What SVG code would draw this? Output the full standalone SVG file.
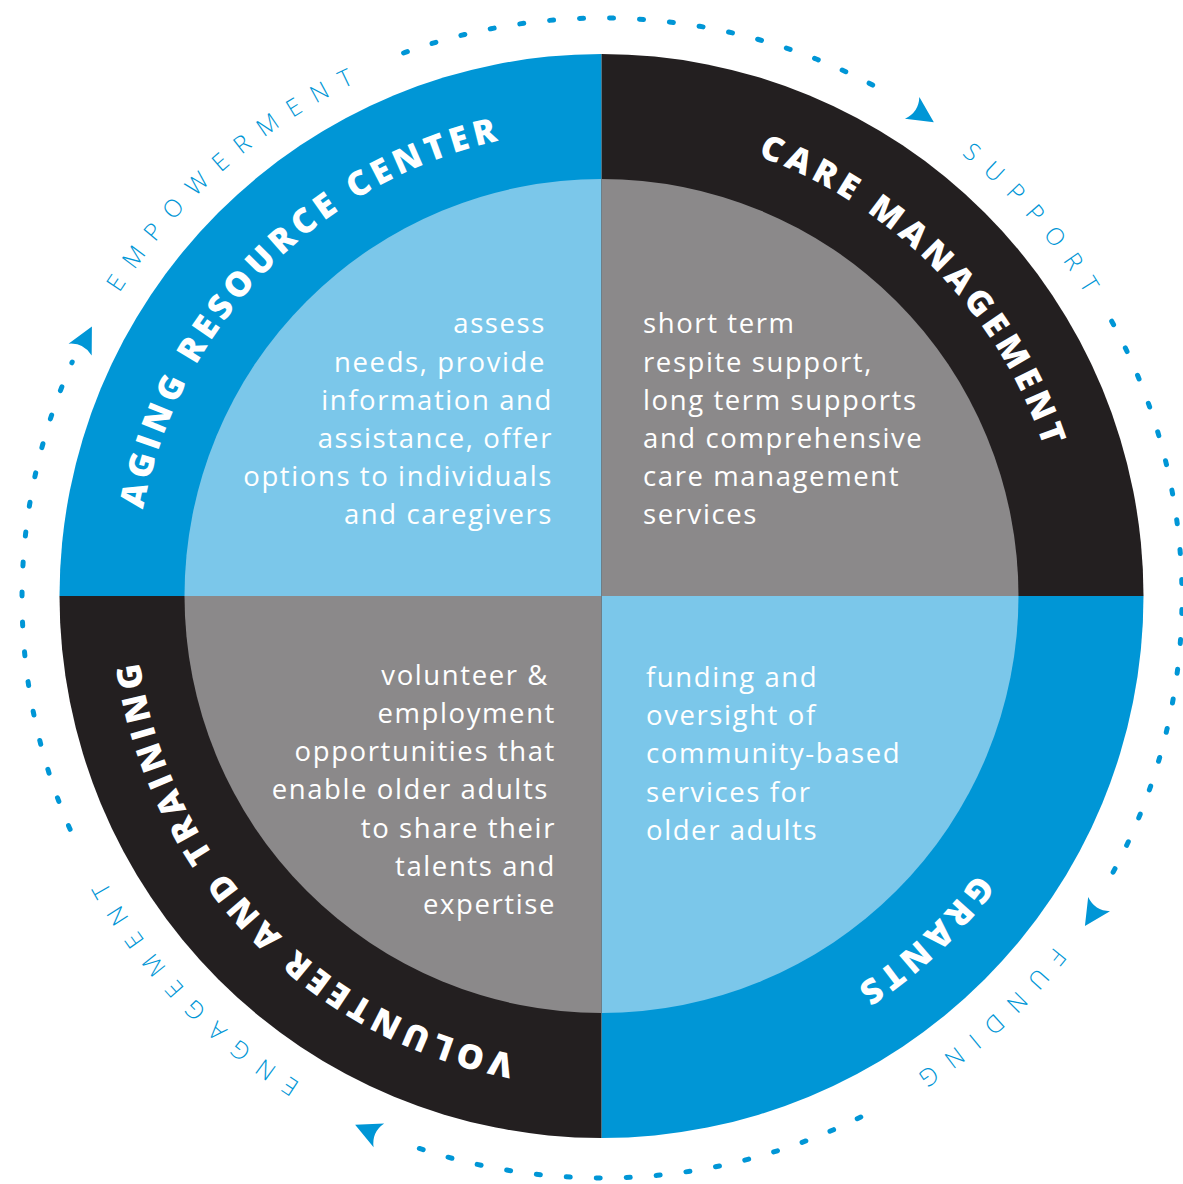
<svg xmlns="http://www.w3.org/2000/svg" xmlns:xlink="http://www.w3.org/1999/xlink" width="1183" height="1184" viewBox="0 0 1183 1184">
  <style>
    .blue { fill: #0096d6; }
    .black { fill: #231f20; }
    .light { fill: #7bc7ea; }
    .gray { fill: #8b898a; }
    .body { font-family: "Open Sans", "Noto Sans", sans-serif; font-size: 27.5px; font-weight: 400; fill: #ffffff; letter-spacing: 1.6px; }
    .ring { font-family: "Open Sans", "Noto Sans", sans-serif; font-size: 34px; font-weight: 800; fill: #ffffff; letter-spacing: 5px; }
    .outer { font-family: "Open Sans", "Noto Sans", sans-serif; font-size: 24px; font-weight: 300; fill: #0096d6; letter-spacing: 14px; }
    .dash { fill: none; stroke: #0096d6; stroke-width: 5; stroke-linecap: round; stroke-dasharray: 4 26; }
    .arrow { fill: #0096d6; }
  </style>
  <defs>
    <path id="ringPath" d="M 1068 596 A 466.5 466.5 0 1 1 135 596 A 466.5 466.5 0 1 1 1068 596"/>
    <path id="outerPath" d="M 1173 598 A 571 571 0 1 1 31 598 A 571 571 0 1 1 1173 598"/>
    <path id="arrowHead" d="M 13 0 L -13 -13 Q -5 0 -13 13 Z"/>
  </defs>

  <g id="node-aging-resource-center">
    <path class="blue" d="M 601.5 596 L 59.5 596 A 542 542 0 0 1 601.5 54 Z"/>
    <path class="light" d="M 601.5 596 L 184.5 596 A 417 417 0 0 1 601.5 179 Z"/>
    <text class="ring" text-anchor="middle"><textPath xlink:href="#ringPath" startOffset="1826">AGING RESOURCE CENTER</textPath></text>
    <g class="body" text-anchor="end">
      <text x="546" y="333">assess</text>
      <text x="546" y="372">needs, provide</text>
      <text x="553" y="410">information and</text>
      <text x="553" y="448">assistance, offer</text>
      <text x="553" y="486">options to individuals</text>
      <text x="553" y="524">and caregivers</text>
    </g>
  </g>

  <g id="node-care-management">
    <path class="black" d="M 601.5 596 L 601.5 54 A 542 542 0 0 1 1143.5 596 Z"/>
    <path class="gray" d="M 601.5 596 L 601.5 179 A 417 417 0 0 1 1018.5 596 Z"/>
    <text class="ring" text-anchor="middle"><textPath xlink:href="#ringPath" startOffset="2571">CARE MANAGEMENT</textPath></text>
    <g class="body">
      <text x="643" y="333">short term</text>
      <text x="643" y="372">respite support,</text>
      <text x="643" y="410">long term supports</text>
      <text x="643" y="448">and comprehensive</text>
      <text x="643" y="486">care management</text>
      <text x="643" y="524">services</text>
    </g>
  </g>

  <g id="node-grants">
    <path class="blue" d="M 601.5 596 L 1143.5 596 A 542 542 0 0 1 601.5 1138 Z"/>
    <path class="light" d="M 601.5 596 L 1018.5 596 A 417 417 0 0 1 601.5 1013 Z"/>
    <text class="ring" text-anchor="middle"><textPath xlink:href="#ringPath" startOffset="382">GRANTS</textPath></text>
    <g class="body">
      <text x="646" y="687">funding and</text>
      <text x="646" y="725">oversight of</text>
      <text x="646" y="763">community-based</text>
      <text x="646" y="802">services for</text>
      <text x="646" y="840">older adults</text>
    </g>
  </g>

  <g id="node-volunteer-and-training">
    <path class="black" d="M 601.5 596 L 601.5 1138 A 542 542 0 0 1 59.5 596 Z"/>
    <path class="gray" d="M 601.5 596 L 601.5 1013 A 417 417 0 0 1 184.5 596 Z"/>
    <text class="ring" text-anchor="middle"><textPath xlink:href="#ringPath" startOffset="1112">VOLUNTEER AND TRAINING</textPath></text>
    <g class="body" text-anchor="end">
      <text x="549" y="685">volunteer &amp;</text>
      <text x="556" y="723">employment</text>
      <text x="556" y="761">opportunities that</text>
      <text x="549" y="799">enable older adults</text>
      <text x="556" y="838">to share their</text>
      <text x="556" y="876">talents and</text>
      <text x="556" y="914">expertise</text>
    </g>
  </g>

  <g id="connectors">
    <path class="dash" d="M 403.6 53 A 580 580 0 0 1 892 95.7"/>
    <path class="dash" d="M 1111.7 321.2 A 580 580 0 0 1 1109.3 879.2"/>
    <path class="dash" d="M 860.8 1117 A 580 580 0 0 1 403.6 1143"/>
    <path class="dash" d="M 70.1 829.3 A 580 580 0 0 1 72.2 362.1"/>
    <use class="arrow" xlink:href="#arrowHead" transform="translate(923 115) rotate(33.5)"/>
    <use class="arrow" xlink:href="#arrowHead" transform="translate(1092 915) rotate(123)"/>
    <use class="arrow" xlink:href="#arrowHead" transform="translate(367 1130) rotate(204)"/>
    <use class="arrow" xlink:href="#arrowHead" transform="translate(86 338) rotate(-63)"/>
  </g>

  <g id="labels">
    <text class="outer" text-anchor="middle"><textPath xlink:href="#outerPath" startOffset="2282">EMPOWERMENT</textPath></text>
    <text class="outer" text-anchor="middle"><textPath xlink:href="#outerPath" startOffset="3180">SUPPORT</textPath></text>
    <text class="outer" text-anchor="middle"><textPath xlink:href="#outerPath" startOffset="476">FUNDING</textPath></text>
    <text class="outer" text-anchor="middle"><textPath xlink:href="#outerPath" startOffset="1363">ENGAGEMENT</textPath></text>
  </g>
</svg>
